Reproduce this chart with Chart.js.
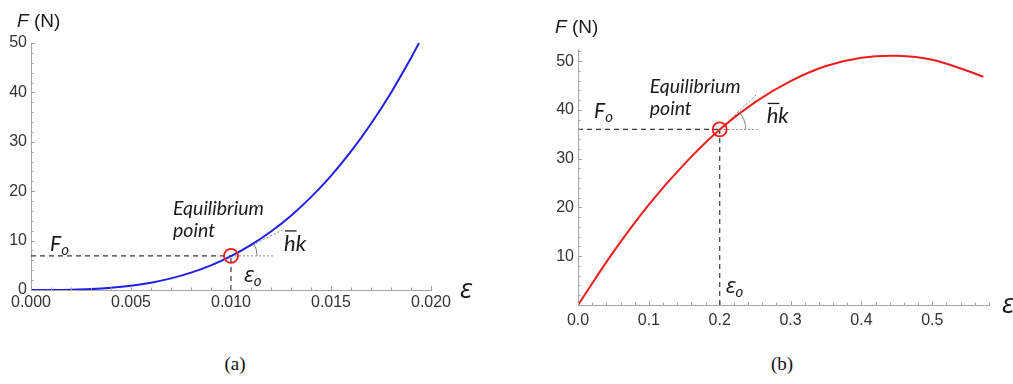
<!DOCTYPE html>
<html>
<head>
<meta charset="utf-8">
<script src="https://cdn.jsdelivr.net/npm/chart.js@4.4.1/dist/chart.umd.min.js"></script>
<style>
  html, body { margin: 0; padding: 0; background: #fff; }
  body { width: 1013px; height: 384px; position: relative; overflow: hidden; }
  canvas { position: absolute; top: 0; }
  #chartA { left: 0; }
  #chartB { left: 520px; }
  .cap { position: absolute; top: 353px; font: 19px "Liberation Serif", serif; color: #111; transform: translateX(-50%); }
</style>
</head>
<body>
<canvas id="chartA" width="506" height="340"></canvas>
<canvas id="chartB" width="493" height="345"></canvas>
<div class="cap" style="left:235px">(a)</div>
<div class="cap" style="left:782px">(b)</div>
<script>
// ---- panel (a): stiffening curve ----
const strainA = [0, 0.001, 0.002, 0.003, 0.004, 0.005, 0.006, 0.007, 0.008, 0.009, 0.010,
                 0.011, 0.012, 0.013, 0.014, 0.015, 0.016, 0.017, 0.018, 0.019, 0.0194];
const forceA  = [0, 0.007, 0.055, 0.185, 0.44, 0.86, 1.48, 2.35, 3.51, 4.99, 6.85,
                 9.12, 11.84, 15.05, 18.80, 23.12, 28.06, 33.65, 39.95, 46.98, 50.0];
const eqA      = [0.010, 6.9];     // equilibrium point
const tangentA = [0.0126, 12.2];   // end of tangent line
const refEndA  = 0.0121;           // end of horizontal reference
const xTicksA  = [0, 0.020, 0.005];
const yTicksA  = [0, 50, 10];

// ---- panel (b): softening curve ----
const strainB = [0, 0.05, 0.1, 0.15, 0.2, 0.25, 0.3, 0.35, 0.4, 0.45, 0.5, 0.55, 0.572];
const forceB  = [0, 10.9, 20.6, 28.9, 36.0, 41.6, 45.9, 49.0, 50.7, 51.1, 50.3, 48.0, 46.8];
const eqB      = [0.2, 36];
const tangentB = [0.253, 43.3];
const refEndB  = 0.253;
const xTicksB  = [0, 0.58, 0.1];
const yTicksB  = [0, 52.5, 10];

const TICK_FONT = { family: 'Liberation Sans', size: 16 };
const ITAL = '"Lato", "Open Sans", sans-serif';
const GREEK = '"Open Sans", "DejaVu Sans", sans-serif';

const pts = (xs, ys) => xs.map((x, i) => ({ x, y: ys[i] }));

// short ticks drawn inward, Mathematica style
const innerTicks = {
  id: 'innerTicks',
  afterDraw(chart, args, o) {
    const { ctx, scales: { x, y } } = chart;
    ctx.save();
    ctx.strokeStyle = '#a0a0a0';
    ctx.lineWidth = 1;
    ctx.beginPath();
    for (let i = 0; i * o.xMinor <= x.max + 1e-9; i++) {
      const p = Math.round(x.getPixelForValue(i * o.xMinor)) + 0.5;
      ctx.moveTo(p, y.bottom);
      ctx.lineTo(p, y.bottom - (i % 5 === 0 ? 4 : 2.5));
    }
    for (let i = 0; i * o.yMinor <= y.max + 1e-9; i++) {
      const p = Math.round(y.getPixelForValue(i * o.yMinor)) + 0.5;
      ctx.moveTo(x.left, p);
      ctx.lineTo(x.left + (i % 5 === 0 ? 4 : 2.5), p);
    }
    ctx.stroke();
    ctx.restore();
  }
};

// angle arc between the horizontal and the tangent
const angleArc = {
  id: 'angleArc',
  afterDatasetsDraw(chart, args, o) {
    const { ctx, scales: { x, y } } = chart;
    const cx = x.getPixelForValue(o.from[0]), cy = y.getPixelForValue(o.from[1]);
    const tx = x.getPixelForValue(o.to[0]), ty = y.getPixelForValue(o.to[1]);
    const ang = Math.atan2(ty - cy, tx - cx);
    ctx.save();
    ctx.strokeStyle = '#777';
    ctx.lineWidth = 0.9;
    ctx.beginPath();
    ctx.arc(cx, cy, o.r, ang, 0);
    ctx.stroke();
    ctx.restore();
  }
};

// text labels anchored to data values
const annotate = {
  id: 'annotate',
  afterDraw(chart, args, o) {
    const { ctx, scales: { x, y } } = chart;
    ctx.save();
    ctx.textAlign = 'left';
    ctx.textBaseline = 'alphabetic';
    ctx.fillStyle = '#1a1a1a';
    for (const t of o.items) {
      let px = x.getPixelForValue(t.at[0]) + t.dx;
      const py = y.getPixelForValue(t.at[1]) + t.dy;
      for (const part of t.parts) {
        ctx.font = part.font;
        const w = ctx.measureText(part.text).width;
        ctx.fillText(part.text, px, py + (part.dy || 0));
        if (part.bar) {
          ctx.strokeStyle = '#1a1a1a';
          ctx.lineWidth = 1.3;
          ctx.beginPath();
          ctx.moveTo(px + 1, py - part.bar);
          ctx.lineTo(px + w + 1, py - part.bar);
          ctx.stroke();
        }
        px += w;
      }
    }
    ctx.restore();
  }
};

function labels(eq, xMaxTick, yTop, L) {
  return [
    { at: [0, yTop], dx: L.fn[0], dy: L.fn[1], parts: [
      { text: 'F', font: 'italic 19px "Liberation Sans"' },
      { text: ' (N)', font: '19px "Liberation Sans"' }] },
    { at: [xMaxTick, 0], dx: L.eps[0], dy: L.eps[1], parts: [
      { text: 'ε', font: 'italic 27px ' + GREEK }] },
    { at: [0, eq[1]], dx: L.fo[0], dy: L.fo[1], parts: [
      { text: 'F', font: 'italic 21px ' + ITAL },
      { text: 'o', font: 'italic 15px ' + ITAL, dy: 4 }] },
    { at: [eq[0], 0], dx: L.eo[0], dy: L.eo[1], parts: [
      { text: 'ε', font: 'italic 22px ' + GREEK },
      { text: 'o', font: 'italic 15px ' + ITAL, dy: 4 }] },
    { at: eq, dx: L.eq[0], dy: L.eq[1], parts: [
      { text: 'Equilibrium', font: 'italic 19.5px ' + ITAL }] },
    { at: eq, dx: L.eq[0], dy: L.eq[1] + 22, parts: [
      { text: 'point', font: 'italic 19.5px ' + ITAL }] },
    { at: eq, dx: L.hk[0], dy: L.hk[1], parts: [
      { text: 'h', font: 'italic 22px ' + ITAL, bar: 20 },
      { text: 'k', font: 'italic 22px ' + ITAL }] }
  ];
}

function makePanel(id, c) {
  const dash = { borderColor: '#3a3a3a', borderWidth: 1.2, borderDash: [5, 4], pointRadius: 0, order: 3 };
  const dot  = { borderColor: '#8a8a8a', borderWidth: 1, borderDash: [2, 2], pointRadius: 0, order: 4 };
  return new Chart(document.getElementById(id), {
    type: 'line',
    data: {
      datasets: [
        { data: [{ x: c.eq[0], y: c.eq[1] }], showLine: false, pointRadius: 7, pointBorderWidth: 1.8,
          pointBorderColor: '#ff1a1a', pointBackgroundColor: 'rgba(0,0,0,0)', order: 0 },
        { data: pts(c.xs, c.ys), borderColor: c.color, borderWidth: 2, pointRadius: 0,
          tension: 0.35, order: 1 },
        { data: [{ x: 0, y: c.eq[1] }, { x: c.eq[0], y: c.eq[1] }], ...dash },
        { data: [{ x: c.eq[0], y: 0 }, { x: c.eq[0], y: c.eq[1] }], ...dash },
        { data: [{ x: c.eq[0], y: c.eq[1] }, { x: c.refEnd, y: c.eq[1] }], ...dot },
        { data: [{ x: c.eq[0], y: c.eq[1] }, { x: c.tan[0], y: c.tan[1] }], ...dot }
      ]
    },
    options: {
      responsive: false,
      animation: false,
      layout: { padding: c.pad },
      plugins: {
        legend: { display: false },
        tooltip: { enabled: false },
        innerTicks: { xMinor: c.xt[2] / 5, yMinor: c.yt[2] / 5 },
        angleArc: { from: c.eq, to: c.tan, r: 26 },
        annotate: { items: labels(c.eq, c.xMaxTick, c.yt[1], c.L) }
      },
      scales: {
        x: {
          type: 'linear', min: c.xt[0], max: c.xt[1],
          grid: { display: false, drawTicks: false },
          border: { display: true, color: '#a6a6a6', width: 1 },
          ticks: { stepSize: c.xt[2], includeBounds: false, maxRotation: 0, autoSkip: false,
                   color: '#333', font: TICK_FONT, padding: c.xPad,
                   callback: v => v.toFixed(c.xDec) },
          afterFit: s => { s.height = c.xH; }
        },
        y: {
          type: 'linear', min: c.yt[0], max: c.yt[1],
          grid: { display: false, drawTicks: false },
          border: { display: true, color: '#a6a6a6', width: 1 },
          ticks: { stepSize: c.yt[2], includeBounds: false, color: '#333', font: TICK_FONT, padding: 4,
                   callback: v => (v === 0 && !c.yZero) ? '' : String(v) },
          afterFit: s => { s.width = c.yW; }
        }
      }
    },
    plugins: [innerTicks, angleArc, annotate]
  });
}

makePanel('chartA', {
  xs: strainA, ys: forceA, eq: eqA, tan: tangentA, refEnd: refEndA, color: '#1f1fe6',
  xt: xTicksA, yt: yTicksA, xMaxTick: 0.020, xDec: 3, yZero: true,
  pad: { left: 0, top: 43, right: 75, bottom: 0 }, yW: 31, xH: 50, xPad: 3,
  L: { fn: [-14, -16], eps: [29, 8], fo: [19, -5], eo: [13, -8], eq: [-58, -41], hk: [53, -5] }
});

makePanel('chartB', {
  xs: strainB, ys: forceB, eq: eqB, tan: tangentB, refEnd: refEndB, color: '#ee1c1c',
  xt: xTicksB, yt: yTicksB, xMaxTick: 0.58, xDec: 1, yZero: false,
  pad: { left: 0, top: 49, right: 24, bottom: 0 }, yW: 58, xH: 40, xPad: 6,
  L: { fn: [-23, -16], eps: [13, 8], fo: [16, -11], eo: [6, -12], eq: [-70, -36], hk: [47, -6] }
});
</script>
</body>
</html>
